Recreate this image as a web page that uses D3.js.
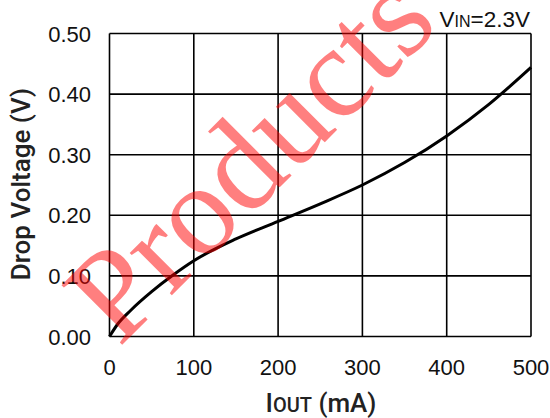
<!DOCTYPE html>
<html><head><meta charset="utf-8">
<script src="https://cdn.jsdelivr.net/npm/d3@7"></script>
<style>body{margin:0;background:#fff}svg{display:block}</style>
</head><body>
<svg id="c" width="550" height="418"></svg>
<script>
const currents = [0, 10, 25, 50, 75, 100, 150, 200, 250, 300, 350, 400, 450, 500];
const drops    = [0, 0.021, 0.043, 0.074, 0.101, 0.125, 0.161, 0.19, 0.219, 0.25, 0.287, 0.331, 0.383, 0.444];
const xTicks = [0, 100, 200, 300, 400, 500];
const yTicks = [0, 0.1, 0.2, 0.3, 0.4, 0.5];

const svg = d3.select("#c");
const L = 109.5, R = 531, T = 33.5, B = 336.5;
const x = d3.scaleLinear().domain([0, 500]).range([L, R]);
const y = d3.scaleLinear().domain([0, 0.5]).range([B, T]);
const font = "'Liberation Sans', Arial, Helvetica, sans-serif";
const tfont = "Roboto, 'Liberation Sans', Arial, sans-serif";

const g = svg.append("g");
g.selectAll(".vg").data(xTicks).join("line")
  .attr("x1", d => x(d)).attr("x2", d => x(d)).attr("y1", T).attr("y2", B)
  .attr("stroke", "#000").attr("stroke-width", 1.6);
g.selectAll(".hg").data(yTicks).join("line")
  .attr("x1", L).attr("x2", R).attr("y1", d => y(d)).attr("y2", d => y(d))
  .attr("stroke", "#000").attr("stroke-width", 1.6);

svg.selectAll(".xt").data(xTicks).join("text")
  .attr("x", d => x(d)).attr("y", 375).attr("text-anchor", "middle")
  .attr("font-family", font).attr("font-size", 22).attr("fill", "#111").text(d => d);
svg.selectAll(".yt").data(yTicks).join("text")
  .attr("x", 91).attr("y", d => y(d) + 8).attr("text-anchor", "end")
  .attr("font-family", font).attr("font-size", 22).attr("fill", "#111").text(d => d.toFixed(2));

const line = d3.line().x((d, i) => x(currents[i])).y(d => y(d)).curve(d3.curveMonotoneX);
svg.append("path").attr("d", line(drops)).attr("fill", "none")
  .attr("stroke", "#000").attr("stroke-width", 3);

// axis titles
svg.append("text").attr("transform", "translate(30,184) rotate(-90)")
  .attr("text-anchor", "middle").attr("font-family", tfont).attr("font-weight", 500)
  .attr("font-size", 26).attr("fill", "#222").text("Drop Voltage (V)");
const xt = svg.append("text").attr("x", 321).attr("y", 412).attr("text-anchor", "middle")
  .attr("font-family", tfont).attr("font-weight", 500).attr("font-size", 26).attr("fill", "#222");
xt.append("tspan").text("I");
xt.append("tspan").attr("font-size", 20).text("OUT");
xt.append("tspan").text(" (mA)");

const vin = svg.append("text").attr("x", 530).attr("y", 26.5).attr("text-anchor", "end")
  .attr("font-family", font).attr("font-size", 22.5).attr("fill", "#111");
vin.append("tspan").text("V");
vin.append("tspan").attr("font-size", 16).text("IN");
vin.append("tspan").text("=2.3V");

// watermark
svg.append("text").attr("transform", "translate(119,348) rotate(-45)")
  .attr("font-family", "'Liberation Serif', 'Times New Roman', serif")
  .attr("font-size", 130).attr("fill", "#ff0000").attr("fill-opacity", 0.5)
  .text("Products");
</script>
</body></html>
